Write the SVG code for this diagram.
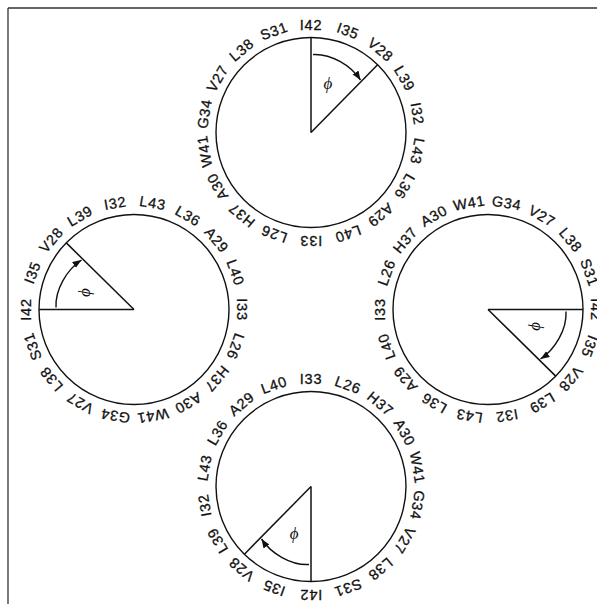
<svg xmlns="http://www.w3.org/2000/svg" width="597" height="604" viewBox="0 0 597 604">
<style>
.c{fill:none;stroke:#111;stroke-width:1.4}
.r{stroke:#111;stroke-width:1.5;fill:none}
.a{stroke:#111;stroke-width:1.4;fill:none;marker-end:url(#ah)}
.l{font-family:"Liberation Sans",Arial,sans-serif;font-size:14.5px;letter-spacing:0.8px;text-anchor:middle;fill:#111;stroke:#111;stroke-width:0.3}
.p{font-family:"Liberation Serif","DejaVu Serif",serif;font-style:italic;font-size:17px;text-anchor:middle;fill:#111}
.f{stroke:#333;stroke-width:1.3;fill:none}
</style>
<defs>
<marker id="ah" markerUnits="userSpaceOnUse" markerWidth="10" markerHeight="8" refX="9" refY="3.5" orient="auto">
<path d="M0,0 L9,3.5 L0,7 z" fill="#111"/>
</marker>
</defs>
<g id="frame">
<line class="f" x1="8" y1="8" x2="597" y2="8"/>
<line class="f" x1="8" y1="8" x2="8" y2="604"/>
</g>
<g id="connectors"></g>
<g id="wheel-top" transform="translate(311,132.5)">
<circle class="c" r="95"/>
<line class="r" x1="0" y1="0" x2="0" y2="-95"/>
<line class="r" x1="0" y1="0" x2="66.6" y2="-67.7"/>
<path class="a" d="M2,-78 C20,-79 40,-67 49.5,-52.5"/>
<text class="p" x="17" y="-44">ϕ</text>
<text class="l" y="-103" transform="rotate(0)">I42</text>
<text class="l" y="-103" transform="rotate(20)">I35</text>
<text class="l" y="-103" transform="rotate(40)">V28</text>
<text class="l" y="-103" transform="rotate(60)">L39</text>
<text class="l" y="-103" transform="rotate(80)">I32</text>
<text class="l" y="-103" transform="rotate(100)">L43</text>
<text class="l" y="-103" transform="rotate(120)">L36</text>
<text class="l" y="-103" transform="rotate(140)">A29</text>
<text class="l" y="-103" transform="rotate(160)">L40</text>
<text class="l" y="-103" transform="rotate(180)">I33</text>
<text class="l" y="-103" transform="rotate(200)">L26</text>
<text class="l" y="-103" transform="rotate(220)">H37</text>
<text class="l" y="-103" transform="rotate(240)">A30</text>
<text class="l" y="-103" transform="rotate(260)">W41</text>
<text class="l" y="-103" transform="rotate(280)">G34</text>
<text class="l" y="-103" transform="rotate(300)">V27</text>
<text class="l" y="-103" transform="rotate(320)">L38</text>
<text class="l" y="-103" transform="rotate(340)">S31</text>
</g>
<g id="wheel-left" transform="translate(134,309.5) rotate(-90)">
<circle class="c" r="95"/>
<line class="r" x1="0" y1="0" x2="0" y2="-95"/>
<line class="r" x1="0" y1="0" x2="66.6" y2="-67.7"/>
<path class="a" d="M2,-78 C20,-79 40,-67 49.5,-52.5"/>
<text class="p" x="17" y="-44">ϕ</text>
<text class="l" y="-103" transform="rotate(0)">I42</text>
<text class="l" y="-103" transform="rotate(20)">I35</text>
<text class="l" y="-103" transform="rotate(40)">V28</text>
<text class="l" y="-103" transform="rotate(60)">L39</text>
<text class="l" y="-103" transform="rotate(80)">I32</text>
<text class="l" y="-103" transform="rotate(100)">L43</text>
<text class="l" y="-103" transform="rotate(120)">L36</text>
<text class="l" y="-103" transform="rotate(140)">A29</text>
<text class="l" y="-103" transform="rotate(160)">L40</text>
<text class="l" y="-103" transform="rotate(180)">I33</text>
<text class="l" y="-103" transform="rotate(200)">L26</text>
<text class="l" y="-103" transform="rotate(220)">H37</text>
<text class="l" y="-103" transform="rotate(240)">A30</text>
<text class="l" y="-103" transform="rotate(260)">W41</text>
<text class="l" y="-103" transform="rotate(280)">G34</text>
<text class="l" y="-103" transform="rotate(300)">V27</text>
<text class="l" y="-103" transform="rotate(320)">L38</text>
<text class="l" y="-103" transform="rotate(340)">S31</text>
</g>
<g id="wheel-right" transform="translate(488,309.5) rotate(90)">
<circle class="c" r="95"/>
<line class="r" x1="0" y1="0" x2="0" y2="-95"/>
<line class="r" x1="0" y1="0" x2="66.6" y2="-67.7"/>
<path class="a" d="M2,-78 C20,-79 40,-67 49.5,-52.5"/>
<text class="p" x="17" y="-44">ϕ</text>
<text class="l" y="-103" transform="rotate(0)">I42</text>
<text class="l" y="-103" transform="rotate(20)">I35</text>
<text class="l" y="-103" transform="rotate(40)">V28</text>
<text class="l" y="-103" transform="rotate(60)">L39</text>
<text class="l" y="-103" transform="rotate(80)">I32</text>
<text class="l" y="-103" transform="rotate(100)">L43</text>
<text class="l" y="-103" transform="rotate(120)">L36</text>
<text class="l" y="-103" transform="rotate(140)">A29</text>
<text class="l" y="-103" transform="rotate(160)">L40</text>
<text class="l" y="-103" transform="rotate(180)">I33</text>
<text class="l" y="-103" transform="rotate(200)">L26</text>
<text class="l" y="-103" transform="rotate(220)">H37</text>
<text class="l" y="-103" transform="rotate(240)">A30</text>
<text class="l" y="-103" transform="rotate(260)">W41</text>
<text class="l" y="-103" transform="rotate(280)">G34</text>
<text class="l" y="-103" transform="rotate(300)">V27</text>
<text class="l" y="-103" transform="rotate(320)">L38</text>
<text class="l" y="-103" transform="rotate(340)">S31</text>
</g>
<g id="wheel-bottom" transform="translate(311,486.5) rotate(180)">
<circle class="c" r="95"/>
<line class="r" x1="0" y1="0" x2="0" y2="-95"/>
<line class="r" x1="0" y1="0" x2="66.6" y2="-67.7"/>
<path class="a" d="M2,-78 C20,-79 40,-67 49.5,-52.5"/>
<text class="p" x="17" y="-44">ϕ</text>
<text class="l" y="-103" transform="rotate(0)">I42</text>
<text class="l" y="-103" transform="rotate(20)">I35</text>
<text class="l" y="-103" transform="rotate(40)">V28</text>
<text class="l" y="-103" transform="rotate(60)">L39</text>
<text class="l" y="-103" transform="rotate(80)">I32</text>
<text class="l" y="-103" transform="rotate(100)">L43</text>
<text class="l" y="-103" transform="rotate(120)">L36</text>
<text class="l" y="-103" transform="rotate(140)">A29</text>
<text class="l" y="-103" transform="rotate(160)">L40</text>
<text class="l" y="-103" transform="rotate(180)">I33</text>
<text class="l" y="-103" transform="rotate(200)">L26</text>
<text class="l" y="-103" transform="rotate(220)">H37</text>
<text class="l" y="-103" transform="rotate(240)">A30</text>
<text class="l" y="-103" transform="rotate(260)">W41</text>
<text class="l" y="-103" transform="rotate(280)">G34</text>
<text class="l" y="-103" transform="rotate(300)">V27</text>
<text class="l" y="-103" transform="rotate(320)">L38</text>
<text class="l" y="-103" transform="rotate(340)">S31</text>
</g>
</svg>
